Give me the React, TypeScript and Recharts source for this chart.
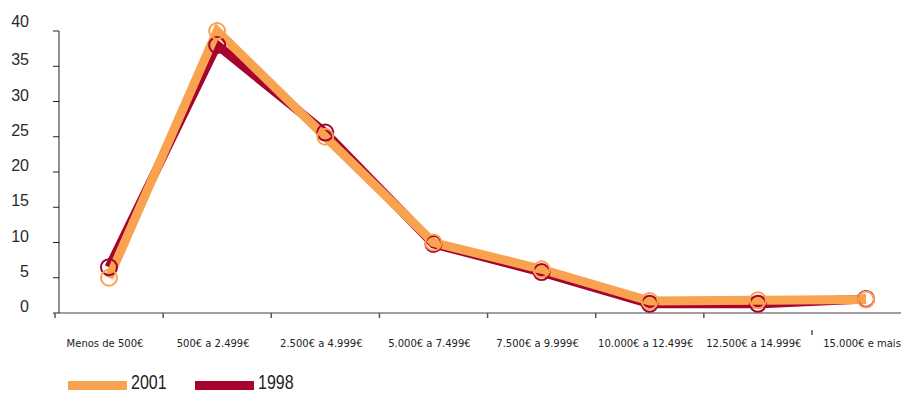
import { LineChart, Line, XAxis, YAxis, Legend } from "recharts";

const categories = [
  "Menos de 500€",
  "500€ a 2.499€",
  "2.500€ a 4.999€",
  "5.000€ a 7.499€",
  "7.500€ a 9.999€",
  "10.000€ a 12.499€",
  "12.500€ a 14.999€",
  "15.000€ e mais",
];

const values2001 = [5, 40, 25, 10, 6.2, 1.7, 1.8, 1.9];
const values1998 = [6.5, 38, 25.6, 9.8, 5.8, 1.3, 1.3, 2.0];

const yTicks = [0, 5, 10, 15, 20, 25, 30, 35, 40];

const ORANGE = "#F9A24F";
const RED = "#A6032F";

const legendOrder = [
  { name: "2001", color: ORANGE },
  { name: "1998", color: RED },
];

const data = categories.map((c, i) => ({
  name: c,
  y2001: values2001[i],
  y1998: values1998[i],
}));

const HALF_STEP = 54;

function XTick(props: any) {
  const { x, y, payload, index } = props;
  const axisY = y - 5;
  // last boundary tick sits a little lower in the original
  const t0 = index === 7 ? axisY + 17 : axisY;
  return (
    <g>
      <line x1={x - HALF_STEP} x2={x - HALF_STEP} y1={t0} y2={t0 + 5} stroke="#555" strokeWidth={1.5} />
      <text
        x={x - 4}
        y={axisY + 34}
        textAnchor="middle"
        fontSize={10}
        fontFamily="'DejaVu Sans', sans-serif"
        fill="#222"
      >
        {payload.value}
      </text>
    </g>
  );
}

function YTick(props: any) {
  const { x, y, payload } = props;
  return (
    <text
      x={x}
      y={y + 2 - (payload.value === 40 ? 6 : 3)}
      textAnchor="end"
      fontSize={16}
      fontFamily="'Liberation Sans', sans-serif"
      fill="#2a2a2a"
    >
      {payload.value}
    </text>
  );
}

function LegendContent() {
  return (
    <div style={{ display: "flex", alignItems: "center", fontFamily: "'Liberation Sans', sans-serif" }}>
      {legendOrder.map((s) => (
        <div key={s.name} style={{ display: "flex", alignItems: "center", width: 127 }}>
          <div style={{ width: 59, height: 9, background: s.color, marginTop: 6 }} />
          <span
            style={{
              fontSize: 20,
              color: "#222",
              marginLeft: 4,
              lineHeight: "20px",
              display: "inline-block",
              transform: "scaleX(0.8)",
              transformOrigin: "left center",
            }}
          >
            {s.name}
          </span>
        </div>
      ))}
    </div>
  );
}

export default function App() {
  return (
    <div style={{ position: "absolute", left: 0, top: 0, width: 901, height: 394, background: "#fff" }}>
      <LineChart width={901} height={394} data={data} margin={{ top: 31, right: 0, left: 0, bottom: 36 }}>
        <XAxis
          dataKey="name"
          interval={0}
          padding={{ left: 50, right: 35 }}
          height={45}
          axisLine={{ stroke: "#808080", strokeWidth: 1.5 }}
          tickLine={false}
          tickSize={5}
          tickMargin={0}
          tick={<XTick />}
        />
        <YAxis
          width={59}
          domain={[0, 40]}
          ticks={yTicks}
          interval={0}
          axisLine={{ stroke: "#222" }}
          tickLine={{ stroke: "#222" }}
          tickSize={6}
          tickMargin={24}
          tick={<YTick />}
        />
        <Legend
          layout="horizontal"
          verticalAlign="middle"
          align="center"
          wrapperStyle={{ top: 372, left: 68, width: 320, height: 22 }}
          content={<LegendContent />}
        />
        <Line
          dataKey="y1998"
          name="1998"
          stroke={RED}
          strokeWidth={9}
          strokeLinejoin="miter"
          dot={{ r: 8, stroke: RED, strokeWidth: 2, fill: "none" }}
          activeDot={false}
          isAnimationActive={false}
        />
        <Line
          dataKey="y2001"
          name="2001"
          stroke={ORANGE}
          strokeWidth={9}
          strokeLinejoin="miter"
          dot={{ r: 8, stroke: ORANGE, strokeWidth: 2, fill: "none" }}
          activeDot={false}
          isAnimationActive={false}
        />
      </LineChart>
    </div>
  );
}
